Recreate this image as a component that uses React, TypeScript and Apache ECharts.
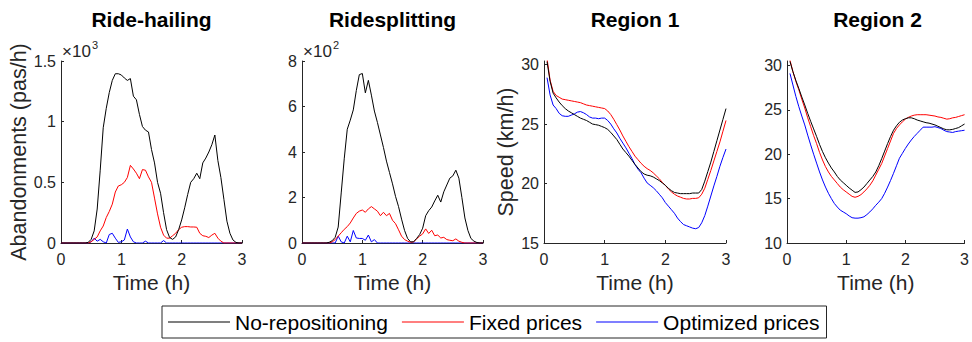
import React, { useEffect, useRef } from "react";
import * as echarts from "echarts";

// Time axis (h)
const TIME = [0, 0.05, 0.1, 0.15, 0.2, 0.25, 0.3, 0.35, 0.4, 0.45, 0.5, 0.55, 0.6, 0.65, 0.7, 0.75, 0.8, 0.85, 0.9, 0.95,
  1.0, 1.05, 1.1, 1.15, 1.2, 1.25, 1.3, 1.35, 1.4, 1.45, 1.5, 1.55, 1.6, 1.65, 1.7, 1.75, 1.8, 1.85, 1.9, 1.95,
  2.0, 2.05, 2.1, 2.15, 2.2, 2.25, 2.3, 2.35, 2.4, 2.45, 2.5, 2.55, 2.6, 2.65, 2.7, 2.75, 2.8, 2.85, 2.9, 2.95, 3.0];

const SERIES_NAMES = ["No-repositioning", "Fixed prices", "Optimized prices"];
const PANEL_TITLES = ["Ride-hailing", "Ridesplitting", "Region 1", "Region 2"];
const X_NAME = "Time (h)";
const Y_NAMES = ["Abandonments (pas/h)", "", "Speed (km/h)", ""];
const EXPONENTS = ["3", "2", "", ""];

// Ride-hailing abandonments (pas/h)
const rhNoRepo = [0, 0, 0, 0, 0, 0, 0, 0, 0, 5, 30, 100, 280, 600, 950, 1110, 1240, 1340, 1395, 1395, 1385, 1360, 1340, 1355, 1210, 1180, 1060, 960, 930, 915, 770, 660, 500, 410, 250, 110, 45, 30, 50, 110, 190, 290, 400, 500, 530, 575, 530, 660, 700, 750, 810, 890, 680, 540, 360, 180, 80, 25, 5, 0, 0];
const rhFixed = [0, 0, 0, 0, 0, 0, 0, 0, 0, 0, 10, 30, 50, 100, 140, 210, 260, 320, 420, 470, 480, 500, 540, 640, 610, 575, 530, 605, 600, 545, 500, 370, 240, 130, 65, 40, 40, 60, 80, 110, 130, 135, 135, 132, 132, 130, 80, 60, 55, 45, 65, 80, 40, 15, 0, 0, 0, 0, 0, 0, 0];
const rhOpt = [0, 0, 0, 0, 0, 0, 0, 0, 0, 0, 10, 40, 15, 30, 10, 0, 70, 80, 40, 5, 10, 25, 115, 50, 10, 0, 0, 0, 15, 0, 0, 0, 0, 0, 20, 0, 0, 0, 0, 0, 0, 0, 0, 0, 0, 0, 0, 0, 0, 0, 0, 0, 0, 0, 0, 0, 0, 0, 0, 0, 0];

// Ridesplitting abandonments (pas/h)
const rsNoRepo = [0, 0, 0, 0, 0, 0, 0, 0, 0, 3, 10, 25, 70, 220, 370, 500, 540, 585, 670, 740, 745, 660, 715, 650, 580, 530, 475, 420, 360, 310, 260, 205, 160, 105, 55, 20, 5, 5, 20, 37, 65, 120, 142, 158, 185, 210, 180, 225, 255, 285, 295, 320, 285, 200, 110, 55, 20, 8, 2, 0, 0];
const rsFixed = [0, 0, 0, 0, 0, 0, 0, 0, 0, 0, 5, 15, 30, 45, 60, 72, 88, 110, 130, 140, 145, 135, 150, 160, 150, 140, 120, 135, 120, 130, 100, 85, 58, 30, 15, 8, 3, 5, 18, 30, 40, 62, 42, 56, 32, 35, 22, 25, 15, 12, 10, 18, 8, 3, 0, 0, 0, 0, 0, 0, 0];
const rsOpt = [0, 0, 0, 0, 0, 0, 0, 0, 0, 0, 0, 0, 30, 5, 0, 30, 5, 55, 22, 20, 20, 12, 35, 5, 15, 0, 0, 0, 0, 0, 0, 0, 0, 0, 0, 0, 0, 0, 0, 0, 0, 0, 0, 0, 0, 0, 0, 0, 0, 0, 0, 0, 0, 0, 0, 0, 0, 0, 0, 0, 0];

// Region 1 speed (km/h)
const r1NoRepo = [null, 30.25, 28.6, 27.6, 27.2, 26.85, 26.55, 26.3, 26.1, 25.95, 25.8, 25.65, 25.5, 25.4, 25.3, 25.15, 25.0, 24.95, 24.9, 24.8, 24.7, 24.55, 24.3, 24.0, 23.7, 23.3, 22.9, 22.6, 22.3, 21.95, 21.6, 21.3, 21.0, 20.8, 20.7, 20.65, 20.55, 20.4, 20.25, 20.05, 19.85, 19.6, 19.4, 19.25, 19.2, 19.15, 19.15, 19.15, 19.15, 19.2, 19.2, 19.2, 19.5, 20.2, 21.0, 21.8, 22.7, 23.6, 24.5, 25.4, 26.3];
const r1Fixed = [null, 30.5, 28.7, 27.75, 27.4, 27.25, 27.1, 27.05, 27.0, 26.95, 26.9, 26.85, 26.8, 26.7, 26.6, 26.55, 26.5, 26.45, 26.4, 26.35, 26.3, 26.1, 25.8, 25.4, 24.95, 24.5, 24.0, 23.55, 23.1, 22.7, 22.3, 22.0, 21.7, 21.45, 21.25, 21.1, 20.9, 20.65, 20.4, 20.1, 19.85, 19.55, 19.3, 19.1, 18.95, 18.85, 18.75, 18.7, 18.7, 18.75, 18.75, 18.8, 19.1, 19.6, 20.35, 21.1, 21.9, 22.7, 23.5, 24.4, 25.3];
const r1Opt = [null, 28.9, 27.45, 26.6, 26.3, 25.9, 25.7, 25.65, 25.65, 25.75, 25.85, 26.0, 26.05, 25.95, 25.8, 25.6, 25.5, 25.5, 25.45, 25.5, 25.5, 25.3, 25.0, 24.6, 24.25, 23.8, 23.4, 23.0, 22.55, 22.1, 21.6, 21.2, 20.9, 20.45, 20.05, 19.85, 19.65, 19.4, 19.1, 18.8, 18.4, 18.1, 17.8, 17.5, 17.1, 16.8, 16.55, 16.45, 16.35, 16.25, 16.2, 16.3, 16.7, 17.3, 18.1, 18.95, 19.8, 20.6, 21.45, 22.2, 22.9];

// Region 2 speed (km/h)
const r2NoRepo = [null, 30.45, 29.3, 28.3, 27.4, 26.45, 25.55, 24.6, 23.7, 22.85, 22.0, 21.1, 20.3, 19.6, 19.0, 18.45, 18.0, 17.5, 17.1, 16.8, 16.5, 16.2, 15.95, 15.7, 15.75, 16.0, 16.3, 16.7, 17.1, 17.5, 18.0, 18.7, 19.5, 20.35, 21.2, 22.0, 22.7, 23.2, 23.6, 23.85, 24.0, 24.1, 24.1, 24.0, 23.85, 23.75, 23.65, 23.55, 23.5, 23.4, 23.3, 23.15, 23.0, 22.85, 22.75, 22.75, 22.8, 22.9, 23.0, 23.2, 23.4];
const r2Fixed = [null, 30.6, 29.3, 28.2, 27.25, 26.2, 25.2, 24.1, 23.1, 22.1, 21.2, 20.2, 19.35, 18.6, 18.0, 17.5, 17.1, 16.7, 16.3, 16.0, 15.75, 15.5, 15.25, 15.15, 15.25, 15.45, 15.75, 16.1, 16.5, 17.0, 17.65, 18.3, 18.95, 19.8, 20.65, 21.5, 22.35, 22.9, 23.3, 23.65, 23.95, 24.15, 24.3, 24.4, 24.45, 24.45, 24.45, 24.45, 24.4, 24.35, 24.3, 24.2, 24.15, 24.05, 23.95, 24.0, 24.1, 24.15, 24.25, 24.35, 24.45];
const r2Opt = [null, 29.1, 27.8, 26.5, 25.35, 24.3, 23.3, 22.15, 21.05, 20.0, 19.0, 18.0, 17.1, 16.3, 15.6, 15.0, 14.45, 14.05, 13.7, 13.5, 13.3, 13.05, 12.85, 12.8, 12.8, 12.85, 12.95, 13.2, 13.5, 13.85, 14.25, 14.6, 15.0, 15.6, 16.3, 17.05, 17.85, 18.7, 19.55, 20.1, 20.65, 21.15, 21.6, 22.0, 22.35, 22.7, 23.05, 23.05, 23.05, 23.05, 23.1, 23.0, 22.9, 22.7, 22.55, 22.5, 22.45, 22.55, 22.6, 22.65, 22.7];

const PANEL_DATA = [
  [rhNoRepo, rhFixed, rhOpt],
  [rsNoRepo, rsFixed, rsOpt],
  [r1NoRepo, r1Fixed, r1Opt],
  [r2NoRepo, r2Fixed, r2Opt],
];

// y-axis settings
const Y_MIN = [0, 0, 15, 10];
const Y_MAX = [1500, 800, 30.3, 30.5];
const Y_INTERVAL = [500, 200, 5, 5];
const Y_TICKS = [[0, 500, 1000, 1500], [0, 200, 400, 600, 800], [15, 20, 25, 30], [10, 15, 20, 25, 30]];
const Y_SCALE = [1000, 100, 1, 1];

const COLORS = ["#000000", "#ff0000", "#0000ff"];
const FONT = "'Liberation Sans', Arial, Helvetica, sans-serif";
const AXIS_COLOR = "#262626";

const GRIDS = [
  { left: 61, top: 61, width: 181, height: 182 },
  { left: 302, top: 61, width: 181, height: 182 },
  { left: 544, top: 61, width: 182, height: 182 },
  { left: 787, top: 61, width: 181, height: 182 },
];
const Y_NAME_GAP = [30, 30, 27, 27];

export default function App() {
  const ref = useRef<HTMLDivElement>(null);
  useEffect(() => {
    if (!ref.current) return;
    const chart = echarts.init(ref.current, null, { renderer: "svg" });

    const xAxis = GRIDS.map((_, i) => ({
      type: "value",
      gridIndex: i,
      min: 0,
      max: 3,
      interval: 1,
      name: X_NAME,
      nameLocation: "middle",
      nameGap: 29,
      nameTextStyle: { fontSize: 21, color: AXIS_COLOR, fontFamily: FONT },
      axisLine: { show: true, onZero: false, lineStyle: { color: AXIS_COLOR, width: 1 } },
      axisTick: { show: true, inside: true, length: 3, lineStyle: { color: AXIS_COLOR } },
      axisLabel: { color: AXIS_COLOR, fontSize: 16, margin: 8, fontFamily: FONT },
      splitLine: { show: false },
    }));

    const yAxis = GRIDS.map((_, i) => ({
      type: "value",
      gridIndex: i,
      min: Y_MIN[i],
      max: Y_MAX[i],
      interval: Y_INTERVAL[i],
      name: Y_NAMES[i],
      nameLocation: "middle",
      nameGap: Y_NAME_GAP[i],
      nameTextStyle: { fontSize: 21.5, color: AXIS_COLOR, fontFamily: FONT },
      axisLine: { show: true, onZero: false, lineStyle: { color: AXIS_COLOR, width: 1 } },
      axisTick: { show: true, inside: true, length: 3, lineStyle: { color: AXIS_COLOR }, customValues: Y_TICKS[i] },
      axisLabel: {
        color: AXIS_COLOR,
        fontSize: 16,
        margin: 5,
        fontFamily: FONT,
        customValues: Y_TICKS[i],
        formatter: (v: number) => String(Math.round((v / Y_SCALE[i]) * 100) / 100),
      },
      splitLine: { show: false },
    }));

    const series: any[] = [];
    PANEL_DATA.forEach((arrs, p) => {
      arrs.forEach((vals, k) => {
        series.push({
          type: "line",
          name: SERIES_NAMES[k],
          xAxisIndex: p,
          yAxisIndex: p,
          data: TIME.map((t, j) => [t, vals[j]]),
          symbol: "none",
          showSymbol: false,
          color: COLORS[k],
          lineStyle: { color: COLORS[k], width: 1 },
          clip: true,
          z: 3 - k,
        });
      });
    });

    const graphic: any[] = [];
    GRIDS.forEach((g, i) => {
      graphic.push({
        type: "text",
        x: g.left + g.width / 2,
        y: 19,
        style: {
          text: PANEL_TITLES[i],
          fontSize: 21,
          fontWeight: "bold",
          fontFamily: FONT,
          fill: "#000",
          align: "center",
          verticalAlign: "middle",
        },
      });
      if (EXPONENTS[i]) {
        graphic.push({
          type: "text",
          x: g.left + 1,
          y: 51,
          style: { text: "×10", fontSize: 17, fontFamily: FONT, fill: AXIS_COLOR, align: "left", verticalAlign: "middle" },
        });
        graphic.push({
          type: "text",
          x: g.left + 31,
          y: 45,
          style: { text: EXPONENTS[i], fontSize: 11, fontFamily: FONT, fill: AXIS_COLOR, align: "left", verticalAlign: "middle" },
        });
      }
    });

    chart.setOption({
      animation: false,
      backgroundColor: "#ffffff",
      grid: GRIDS.map((g) => ({ ...g, containLabel: false })),
      xAxis,
      yAxis,
      series,
      graphic,
      legend: {
        data: SERIES_NAMES.map((n) => ({ name: n, icon: "rect" })),
        left: 162,
        top: 306,
        orient: "horizontal",
        itemWidth: 62,
        itemHeight: 1,
        itemGap: 14,
        padding: [5, 7, 5, 6],
        borderColor: AXIS_COLOR,
        borderWidth: 1,
        borderRadius: 0,
        backgroundColor: "#ffffff",
        textStyle: { fontSize: 21, fontFamily: FONT, color: "#000", lineHeight: 22 },
        selectedMode: false,
      },
    });
    return () => chart.dispose();
  }, []);
  return <div ref={ref} style={{ position: "absolute", left: 0, top: 0, width: 972, height: 342 }} />;
}
